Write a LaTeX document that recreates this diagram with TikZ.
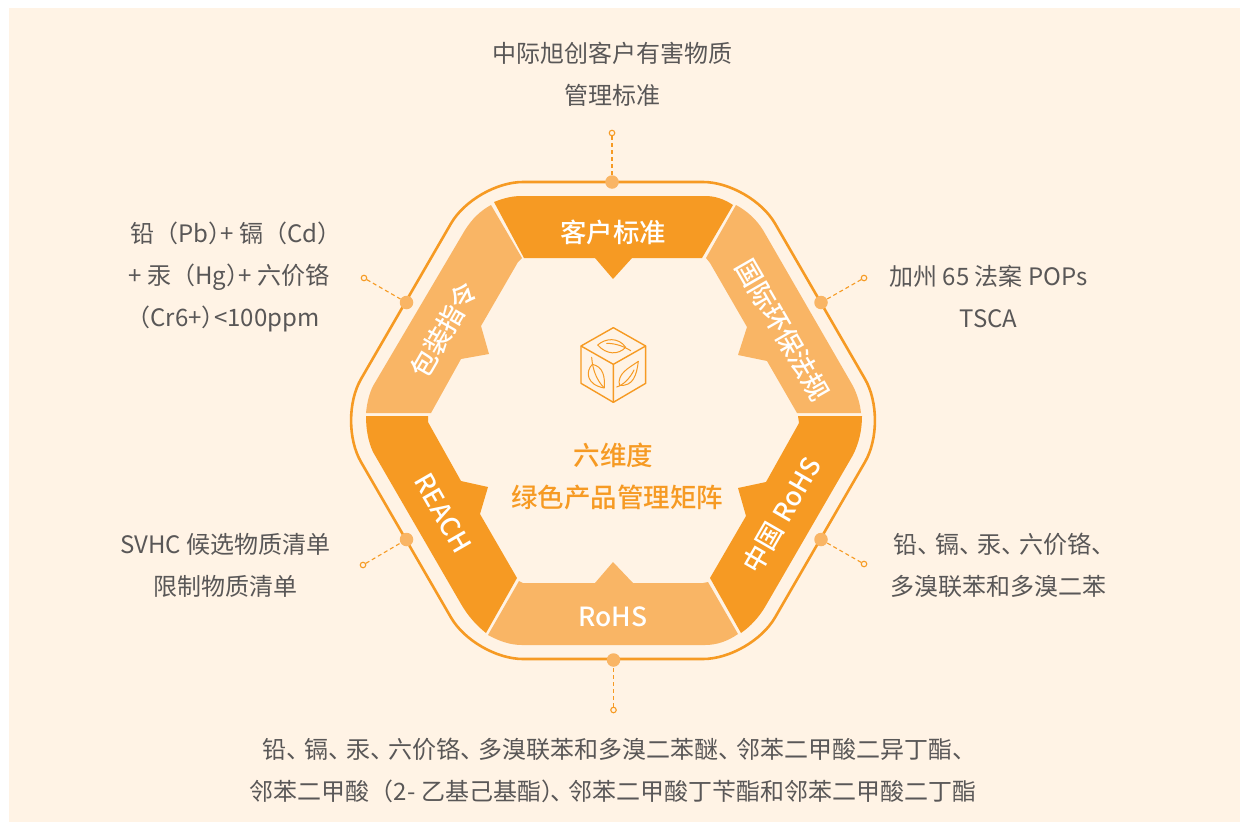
\documentclass[tikz,border=0pt]{standalone}
\usepackage{fontspec}
\setmainfont{Noto Sans CJK SC}
\newfontfamily\medfont{Noto Sans CJK SC Medium}
\definecolor{darko}{HTML}{F69A23}
\definecolor{lighto}{HTML}{F9B565}
\definecolor{creamb}{HTML}{FFF3E5}
\definecolor{graytx}{HTML}{595757}
\newcommand\dun{、\kern-6pt}
\newcommand\rpk{）\kern-17pt\ }
\tikzset{
  outerring/.style={draw=darko,line width=2.6pt,rounded corners=48pt},
  darkseg/.style={fill=darko},
  lightseg/.style={fill=lighto},
  seglabel/.style={text=white,font=\medfont\fontsize{26.4}{30}\selectfont,inner sep=0pt},
  infotext/.style={text=graytx,align=center,inner sep=0pt,font=\fontsize{24}{42}\selectfont},
  centertext/.style={text=darko,align=center,inner sep=0pt,font=\medfont\fontsize{26.5}{42}\selectfont},
  bigdot/.style={circle,fill=lighto,inner sep=0pt,minimum size=13.5pt},
  smalldot/.style={circle,draw=darko,line width=1.1pt,inner sep=0pt,minimum size=5.5pt},
  leader/.style={draw=darko,line width=1.1pt,dash pattern=on 4pt off 3pt},
  iconline/.style={draw=darko,line width=1.4pt,line join=round},
  leafline/.style={draw=darko,line width=1pt,line join=round,line cap=round},
}
\begin{document}
\begin{tikzpicture}[x=1pt,y=-1pt]
\useasboundingbox (0,0) rectangle (1249,830);
\fill[creamb] (9,8) rectangle (1240,822);
% outer ring
\draw[outerring] (613,182) -- (751,182) -- (889,420.5) -- (751,659) -- (475,659) -- (337,420.5) -- (475,182) -- cycle;
% segments
\path[darkseg] (494,202) .. controls (504,198) and (512,196) .. (522,196) -- (705,196) .. controls (715,196) and (724,199) .. (733,205)
  -- (702,258) -- (632,258) -- (613,279) -- (595,258) -- (524,258) -- cycle;
\path[lightseg] (491,205) .. controls (480,211) and (472,219) .. (465,230) -- (373,386) .. controls (369,394) and (367,403) .. (366,413)
  -- (431,413) -- (461,359) -- (489,354) -- (481,326) -- (518,262) -- (522,258) -- cycle;
\path[lightseg] (736,205) .. controls (747,211) and (756,219) .. (763,230) -- (853,386) .. controls (857,394) and (860,403) .. (861,413)
  -- (797,413) -- (767,361) -- (738,355) -- (747,327) -- (710,263) -- (706,258) -- cycle;
\path[darkseg] (366,416) -- (428,416) -- (428,422) -- (461,481) -- (488,487) -- (480,514) -- (517,578) -- (486,633)
  .. controls (476,625) and (468,616) .. (461,604) -- (373,452) .. controls (368,441) and (366,429) .. (366,416) -- cycle;
\path[lightseg] (488,635) .. controls (499,641) and (510,645) .. (522,645) -- (705,645) .. controls (717,645) and (728,641) .. (738,634)
  -- (708,582) -- (703,583) -- (633,583) -- (613,562) -- (595,583) -- (523,583) -- (519,581) -- cycle;
\path[darkseg] (862,416) -- (798,416) -- (799,423) -- (766,482) -- (738,488) -- (746,516) -- (710,578) -- (741,633)
  .. controls (751,626) and (759,617) .. (765,607) -- (853,455) .. controls (859,443) and (862,430) .. (862,416) -- cycle;
% segment labels
\node[seglabel] (kehu) at (613,232) {客户标准};
\node[seglabel,rotate=60] (baozhuang) at (444,330) {包装指令};
\node[seglabel,rotate=-60] (guoji) at (783,330) {国际环保法规};
\node[seglabel,rotate=-60] (reach) at (443,513) {REACH};
\node[seglabel,rotate=60] (china) at (782,515) {中国 RoHS};
\node[seglabel] (rohs) at (613,617) {RoHS};
% dots
\node[bigdot] (d1) at (612,182) {};
\node[bigdot] (d2) at (821,302.5) {};
\node[bigdot] (d3) at (821,539.5) {};
\node[bigdot] (d4) at (613.5,660) {};
\node[bigdot] (d5) at (406.5,539.5) {};
\node[bigdot] (d6) at (406.5,302.5) {};
\node[smalldot] (s1) at (612,133) {};
\node[smalldot] (s2) at (864,278) {};
\node[smalldot] (s3) at (864,564) {};
\node[smalldot] (s4) at (613.5,710) {};
\node[smalldot] (s5) at (363,565) {};
\node[smalldot] (s6) at (364,278) {};
\foreach \a/\b in {s1/d1,s2/d2,s3/d3,s4/d4,s5/d5,s6/d6} \draw[leader] (\a) -- (\b);
% info text
\node[infotext] (t1) at (612,74) {中际旭创客户有害物质\\管理标准};
\node[infotext] (t2) at (988.5,296) {加州 65 法案 POPs\\TSCA};
\node[infotext] (t3) at (998.5,565) {铅\dun 镉\dun 汞\dun 六价铬\dun\kern-5pt\\多溴联苯和多溴二苯};
\node[infotext] (t4) at (613,770) {\hspace*{6pt}铅\dun 镉\dun 汞\dun 六价铬\dun 多溴联苯和多溴二苯醚\dun 邻苯二甲酸二异丁酯\dun\\邻苯二甲酸（2- 乙基己基酯）\kern-15pt\dun 邻苯二甲酸丁苄酯和邻苯二甲酸二丁酯};
\node[infotext] (t5) at (225.5,565) {SVHC 候选物质清单\\限制物质清单};
\node[infotext] (t6) at (229,277) {铅（Pb\rpk + 镉（Cd）\kern-14pt\\+ 汞（Hg\rpk + 六价铬\\\hspace*{-12pt}（Cr6+\rpk <100ppm};
\node[centertext] (c) at (617,476) {六维度\kern7pt\\绿色产品管理矩阵};
% cube icon
\begin{scope}[shift={(560,310)},x=0.3333pt,y=-0.3333pt]
\draw[iconline] (160,53) -- (257,108) -- (257,220) -- (160,277) -- (63,220) -- (63,108) -- cycle;
\draw[iconline] (63,108) -- (160,163) -- (257,108) (160,163) -- (160,277);
\draw[leafline] (113,105) .. controls (135,85) and (175,80) .. (197,112) .. controls (175,135) and (140,135) .. (113,105) -- cycle;
\draw[leafline] (140,100) .. controls (165,100) and (190,108) .. (212,122);
\draw[leafline] (97,163) .. controls (75,185) and (80,225) .. (133,234) .. controls (135,200) and (130,170) .. (97,163) -- cycle;
\draw[leafline] (95,142) .. controls (98,180) and (110,210) .. (131,232);
\draw[leafline] (235,154) .. controls (230,195) and (220,230) .. (178,226) .. controls (172,190) and (205,175) .. (235,154) -- cycle;
\draw[leafline] (170,231) .. controls (190,225) and (210,205) .. (222,180);
\end{scope}
\end{tikzpicture}
\end{document}
